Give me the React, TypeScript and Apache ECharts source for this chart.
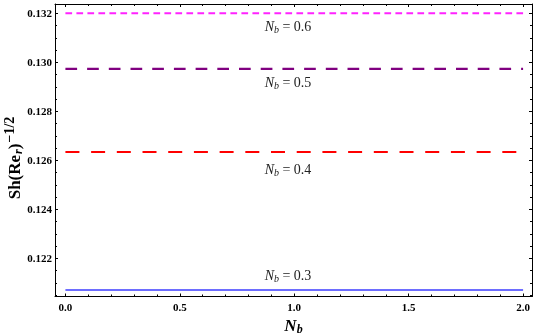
import React, { useEffect, useRef } from "react";
import * as echarts from "echarts";

const xValues = [0, 2];
const nb03 = [0.12071, 0.12071];
const nb04 = [0.12634, 0.12634];
const nb05 = [0.12973, 0.12973];
const nb06 = [0.132, 0.132];

const xMajorTicks = [0, 0.5, 1, 1.5, 2];
const xMinorTicks = [0.1, 0.2, 0.3, 0.4, 0.6, 0.7, 0.8, 0.9, 1.1, 1.2, 1.3, 1.4, 1.6, 1.7, 1.8, 1.9];
const yMajorTicks = [0.122, 0.124, 0.126, 0.128, 0.13, 0.132];
const yMinorTicks = [
  0.1205, 0.121, 0.1215, 0.1225, 0.123, 0.1235, 0.1245, 0.125, 0.1255, 0.1265, 0.127, 0.1275,
  0.1285, 0.129, 0.1295, 0.1305, 0.131, 0.1315,
];

const X_MIN = -0.0455;
const X_MAX = 2.039;
const Y_MIN = 0.12044;
const Y_MAX = 0.13238;

const SERIF = "'Liberation Serif', 'DejaVu Serif', serif";

const annotations = [
  { label: "0.6", x: 288, y: 26.5 },
  { label: "0.5", x: 288, y: 82 },
  { label: "0.4", x: 288, y: 169 },
  { label: "0.3", x: 288, y: 275 },
];

export default function App() {
  const ref = useRef<HTMLDivElement>(null);
  useEffect(() => {
    if (!ref.current) return;
    const chart = echarts.init(ref.current, null, { renderer: "svg" });
    const line = { show: true, onZero: false, lineStyle: { color: "#000", width: 1 } };
    const noLine = { show: false, onZero: false };
    const mkX = (position: string, values: number[], len: number, labels: boolean, showLine: boolean, extra: any = {}) => ({
      type: "value",
      position,
      min: X_MIN,
      max: X_MAX,
      axisLine: showLine ? line : noLine,
      axisTick: { show: true, inside: true, length: len, customValues: values, lineStyle: { color: "#000", width: 1 } },
      axisLabel: labels
        ? {
            show: true,
            customValues: values,
            formatter: (v: number) => v.toFixed(1),
            fontFamily: SERIF,
            fontWeight: "bold",
            fontSize: 11,
            color: "#000",
            margin: 5,
          }
        : { show: false },
      splitLine: { show: false },
      ...extra,
    });
    const mkY = (position: string, values: number[], len: number, labels: boolean, showLine: boolean, extra: any = {}) => ({
      type: "value",
      position,
      min: Y_MIN,
      max: Y_MAX,
      axisLine: showLine ? line : noLine,
      axisTick: { show: true, inside: true, length: len, customValues: values, lineStyle: { color: "#000", width: 1 } },
      axisLabel: labels
        ? {
            show: true,
            customValues: values,
            formatter: (v: number) => v.toFixed(3),
            fontFamily: SERIF,
            fontWeight: "bold",
            fontSize: 11,
            color: "#000",
            margin: 3,
          }
        : { show: false },
      splitLine: { show: false },
      ...extra,
    });
    const toData = (ys: number[]) => xValues.map((x, i) => [x, ys[i]]);
    const mkSeries = (name: string, ys: number[], color: string, type: any, width: number) => ({
      name,
      type: "line",
      data: toData(ys),
      symbol: "none",
      lineStyle: { color, width, type },
      xAxisIndex: 0,
      yAxisIndex: 0,
    });
    chart.setOption({
      animation: false,
      grid: { left: 55, right: 4, top: 4, bottom: 38.5, containLabel: false, outerBoundsMode: "none" },
      xAxis: [
        mkX("bottom", xMajorTicks, 3, true, true, {
          name: "{n|N}{s|b}",
          nameLocation: "middle",
          nameGap: 17,
          nameTextStyle: {
            rich: {
              n: { fontFamily: SERIF, fontStyle: "italic", fontWeight: "bold", fontSize: 17, color: "#000", lineHeight: 18, verticalAlign: "top" },
              s: { fontFamily: SERIF, fontStyle: "italic", fontWeight: "bold", fontSize: 12, color: "#000", lineHeight: 18, verticalAlign: "bottom", padding: [6, 0, 0, 0] },
            },
          },
        }),
        mkX("bottom", xMinorTicks, 2, false, false),
        mkX("top", xMajorTicks, 3, false, true),
        mkX("top", xMinorTicks, 2, false, false),
      ],
      yAxis: [
        mkY("left", yMajorTicks, 3, true, true),
        mkY("left", yMinorTicks, 2, false, false),
        mkY("right", yMajorTicks, 3, false, true),
        mkY("right", yMinorTicks, 2, false, false),
      ],
      series: [
        mkSeries("Nb = 0.3", nb03, "#3d3dff", "solid", 1.5),
        mkSeries("Nb = 0.4", nb04, "#ff0000", [14, 11.7], 2),
        mkSeries("Nb = 0.5", nb05, "#800080", [11.7, 10], 2.2),
        mkSeries("Nb = 0.6", nb06, "#ff22ff", [6.7, 4.3], 2),
      ],
      graphic: [
        {
          type: "text",
          x: 14,
          y: 158,
          rotation: Math.PI / 2,
          style: {
            text: "{b|Sh(Re}{r|r}{b|)}{p|−1/2}",
            align: "center",
            verticalAlign: "middle",
            rich: {
              b: { fontFamily: SERIF, fontWeight: "bold", fontSize: 17, fill: "#000", lineHeight: 20 },
              r: { fontFamily: SERIF, fontWeight: "bold", fontStyle: "italic", fontSize: 12, fill: "#000", lineHeight: 20, padding: [7, 0, 0, 1] },
              p: { fontFamily: SERIF, fontWeight: "bold", fontSize: 14, fill: "#000", lineHeight: 20, padding: [0, 0, 9, 1] },
            },
          },
        },
        ...annotations.map((a) => ({
          type: "text",
          x: a.x,
          y: a.y,
          style: {
            text: `{n|N}{s|b}{t| = ${a.label}}`,
            align: "center",
            verticalAlign: "middle",
            rich: {
              n: { fontFamily: SERIF, fontStyle: "italic", fontSize: 14, fill: "#222", lineHeight: 18 },
              s: { fontFamily: SERIF, fontStyle: "italic", fontSize: 10, fill: "#222", lineHeight: 18, padding: [6, 0, 0, 0] },
              t: { fontFamily: SERIF, fontSize: 14, fill: "#222", lineHeight: 18 },
            },
          },
        })),
      ],
    });
    return () => chart.dispose();
  }, []);
  return <div ref={ref} style={{ position: "fixed", left: 0, top: 0, width: 536, height: 335 }} />;
}
